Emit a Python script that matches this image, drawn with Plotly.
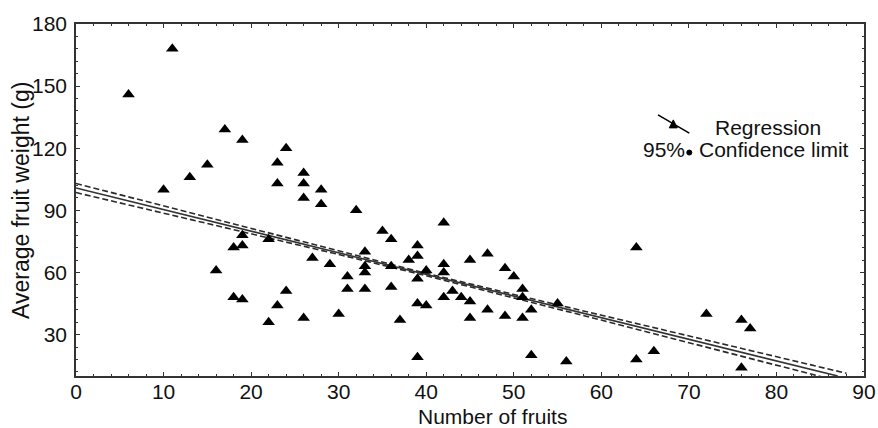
import plotly.graph_objects as go

# Observed data (number of fruits, average fruit weight in g)
fruit_count = [6, 11, 17, 19, 10, 13, 15, 24, 23, 23, 26, 26, 26, 28, 28, 32,
               19, 18, 19, 22, 16, 27, 29, 31, 31, 18, 19, 24, 23, 22, 26, 30,
               35, 36, 42, 33, 33, 33, 33, 36, 36, 37, 38, 39, 39, 39, 39, 40,
               40, 39, 42, 42, 42, 43, 44, 45, 45, 45, 47, 47, 49, 49, 50, 51,
               51, 51, 52, 52, 55, 56, 64, 72, 76, 77, 64, 66, 76]
fruit_weight = [146, 168, 129, 124, 100, 106, 112, 120, 113, 103, 108, 103, 96, 100, 93, 90,
                78, 72, 73, 76, 61, 67, 64, 58, 52, 48, 47, 51, 44, 36, 38, 40,
                80, 76, 84, 70, 63, 60, 52, 63, 53, 37, 66, 73, 68, 57, 45, 44,
                61, 19, 64, 60, 48, 51, 48, 66, 46, 38, 69, 42, 62, 39, 58, 52,
                48, 38, 42, 20, 45, 17, 72, 40, 37, 33, 18, 22, 14]

# Regression line and 95% confidence limits
reg_x = [0, 87]
reg_y = [100.8, 10.0]
ci_x = [0, 10, 20, 30, 40, 50, 60, 70, 80, 88]
ci_upper = [103.0, 92.1, 81.1, 70.3, 59.6, 49.4, 39.4, 29.3, 19.3, 11.3]
ci_lower = [98.6, 88.7, 78.7, 68.7, 58.4, 47.8, 37.0, 26.1, 15.3, 6.5]

x_ticks = [0, 10, 20, 30, 40, 50, 60, 70, 80, 90]
y_ticks = [30, 60, 90, 120, 150, 180]

FONT = "Arial, Liberation Sans, Helvetica, sans-serif"
LINE = "#333333"
TXT = "#111111"

fig = go.Figure()
for cy in (ci_upper, ci_lower):
    fig.add_trace(go.Scatter(x=ci_x, y=cy, mode="lines",
                             line=dict(color="#2a2a2a", width=1.6, dash="6px,3px"),
                             showlegend=False, hoverinfo="skip"))
fig.add_trace(go.Scatter(x=reg_x, y=reg_y, mode="lines",
                         line=dict(color=LINE, width=1.6),
                         showlegend=False, hoverinfo="skip"))
fig.add_trace(go.Scatter(x=fruit_count, y=fruit_weight, mode="markers",
                         marker=dict(symbol="triangle-up", size=11, color="black",
                                     line=dict(width=0)),
                         showlegend=False, cliponaxis=False))

axis_common = dict(showgrid=False, zeroline=False, showline=True, linecolor=LINE,
                   linewidth=1.5, mirror="allticks", ticks="inside", ticklen=4,
                   tickcolor=LINE, tickwidth=1,
                   tickfont=dict(family=FONT, size=21, color=TXT))

fig.update_layout(
    width=878, height=428,
    margin=dict(l=76, r=14, t=24, b=52, autoexpand=False),
    paper_bgcolor="white", plot_bgcolor="white",
    xaxis=dict(range=[0, 90], tickvals=x_ticks, ticklabelstandoff=-4,
               minor=dict(dtick=2, ticks="inside", ticklen=2, tickcolor=LINE),
               **axis_common),
    yaxis=dict(range=[10, 180], tickvals=y_ticks, ticklabelstandoff=3,
               minor=dict(dtick=6, ticks="inside", ticklen=2, tickcolor=LINE),
               **axis_common),
    annotations=[
        dict(text="Number of fruits", xref="paper", yref="paper", x=0.5286, y=-0.1163,
             xanchor="center", yanchor="middle", showarrow=False,
             font=dict(family=FONT, size=21, color=TXT)),
        dict(text="Average fruit weight (g)", xref="paper", yref="paper", x=-0.0698, y=0.5,
             xanchor="center", yanchor="middle", textangle=-90, showarrow=False,
             font=dict(family=FONT, size=23, color=TXT)),
        dict(text="Regression", xref="paper", yref="paper", x=0.808, y=0.7063,
             xanchor="left", yanchor="middle", showarrow=False,
             font=dict(family=FONT, size=21, color=TXT)),
        dict(text="95%", xref="paper", yref="paper", x=0.7754, y=0.6425,
             xanchor="right", yanchor="middle", showarrow=False,
             font=dict(family=FONT, size=21, color=TXT)),
        dict(text="Confidence limit", xref="paper", yref="paper", x=0.788, y=0.6425,
             xanchor="left", yanchor="middle", showarrow=False,
             font=dict(family=FONT, size=21, color=TXT)),
    ],
    shapes=[
        dict(type="line", xref="paper", yref="paper", x0=0.7386, y0=0.7418,
             x1=0.7783, y1=0.6898, line=dict(color="black", width=1.5)),
        dict(type="path", xref="paper", yref="paper",
             path="M 0.7529,0.7049 L 0.7631,0.7049 L 0.758,0.7276 Z",
             fillcolor="black", line=dict(color="black", width=1)),
        dict(type="circle", xref="paper", yref="paper", x0=0.7751, x1=0.7815,
             y0=0.6277, y1=0.6419, fillcolor="black", line=dict(color="black", width=1)),
    ],
)

fig.write_html(
    "out.html",
    config={"displayModeBar": False},
    post_script="document.body.style.margin='0';document.body.style.overflow='hidden';",
)
